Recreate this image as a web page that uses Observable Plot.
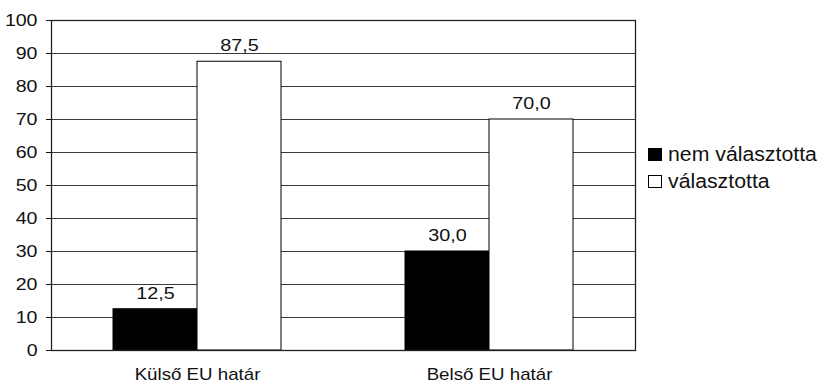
<!DOCTYPE html>
<html>
<head>
<meta charset="utf-8">
<script src="https://cdn.jsdelivr.net/npm/d3@7"></script>
<script src="https://cdn.jsdelivr.net/npm/@observablehq/plot@0.6"></script>
<style>
  body { margin: 0; background: #fff; font-family: "Liberation Sans", Arial, sans-serif; }
  #wrap { position: relative; width: 823px; height: 385px; }
  #legend { position: absolute; left: 648px; top: 140.5px; font-size: 19.5px; color: #111; line-height: 27px; }
  #legend .item { display: flex; align-items: center; white-space: nowrap; }
  #legend .sw { width: 14px; height: 13px; box-sizing: border-box; border: 1px solid #000; margin-right: 6px; flex: none; }
  #legend .lbl { display: inline-block; transform: scaleX(1.09); transform-origin: 0 50%; }
</style>
</head>
<body>
<div id="wrap"><div id="legend"></div></div>
<script>
// Survey answers by border type, in percent
const categories = ["Külső EU határ", "Belső EU határ"];
const series = ["nem választotta", "választotta"];
const nemValasztotta = [12.5, 30.0];
const valasztotta = [87.5, 70.0];
const yTicks = [0, 10, 20, 30, 40, 50, 60, 70, 80, 90, 100];
const seriesFill = ["#000000", "#ffffff"];

const rows = categories.flatMap((c, i) => [
  {category: c, series: series[0], value: nemValasztotta[i]},
  {category: c, series: series[1], value: valasztotta[i]}
]);

const fmt = v => v.toFixed(1).replace(".", ",");

const chart = Plot.plot({
  width: 823,
  height: 385,
  marginLeft: 51,
  marginRight: 188,
  marginTop: 20,
  marginBottom: 35,
  style: {fontFamily: "'Liberation Sans', Arial, sans-serif", fontSize: "17px", color: "#111", background: "#fff"},
  fx: {domain: categories, padding: 0, label: null, tickSize: 0, tickPadding: 17.5},
  x: {domain: series, paddingInner: 0, paddingOuter: 0.738, axis: null},
  y: {domain: [0, 100], ticks: yTicks, tickSize: 5, tickPadding: 9, label: null},
  color: {domain: series, range: seriesFill},
  marks: [
    Plot.ruleY(yTicks, {stroke: "#3a3a3a", strokeWidth: 1}),
    Plot.barY(rows, {fx: "category", x: "series", y: "value", fill: "series", stroke: "#000", strokeWidth: 1}),
    Plot.text(rows, {fx: "category", x: "series", y: "value", text: d => fmt(d.value), lineAnchor: "bottom", dy: -10.5, fill: "#111", fontSize: 16.5}),
    Plot.frame({facet: "super", stroke: "#222", strokeWidth: 1.3})
  ]
});

document.getElementById("wrap").prepend(chart);

// The labels in this chart use a slightly widened face: stretch each text run horizontally
const widen = (selector, k) => {
  chart.querySelectorAll(selector).forEach(el => {
    if (el.dataset.widened) return;
    const len = el.getComputedTextLength();
    if (len > 0) {
      el.setAttribute("textLength", (len * k).toFixed(2));
      el.setAttribute("lengthAdjust", "spacingAndGlyphs");
    }
    el.dataset.widened = "1";
  });
};
widen('g[aria-label="fx-axis tick label"] text', 1.1);
widen('g[aria-label="y-axis tick label"] text', 1.15);
widen("text", 1.2);

const legend = document.getElementById("legend");
series.forEach((s, i) => {
  const item = document.createElement("div");
  item.className = "item";
  const sw = document.createElement("span");
  sw.className = "sw";
  sw.style.background = seriesFill[i];
  const label = document.createElement("span");
  label.className = "lbl";
  label.textContent = s;
  item.append(sw, label);
  legend.append(item);
});
</script>
</body>
</html>
